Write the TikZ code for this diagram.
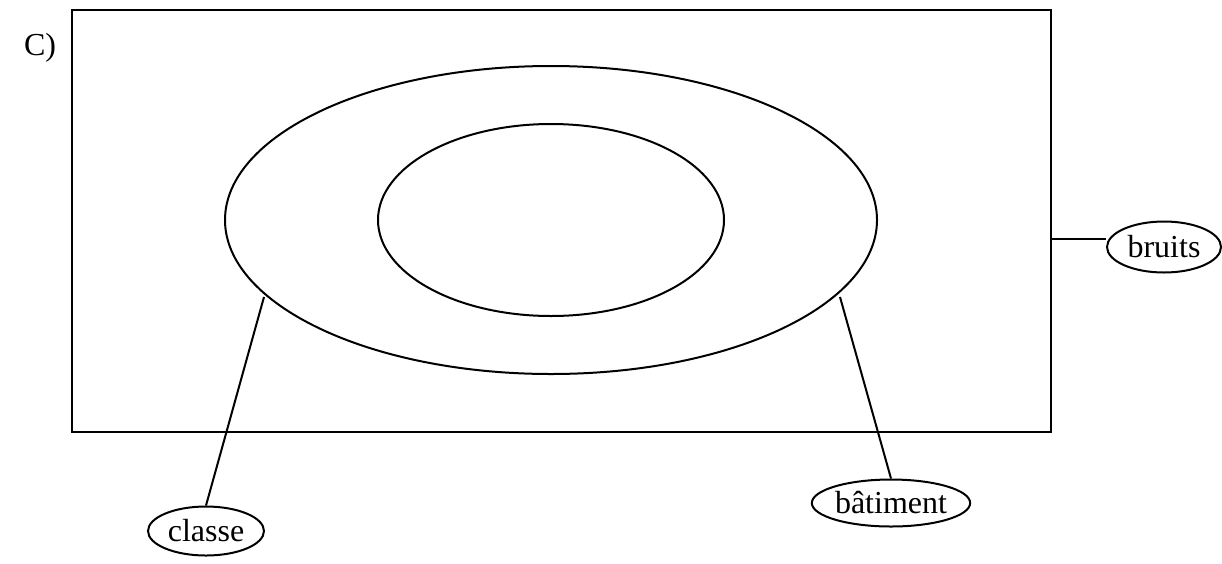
\documentclass[tikz,border=0pt]{standalone}
\usepackage{fontspec}
\setmainfont{Liberation Serif}
\usetikzlibrary{shapes.geometric}
\begin{document}
\begin{tikzpicture}[x=1pt,y=-1pt,line width=2pt,
  txt/.style={font=\fontsize{32}{38}\selectfont},
  lbl/.style={draw,ellipse,inner sep=0pt,txt},
  big/.style={draw,ellipse,inner sep=0pt}]
\useasboundingbox (0,0) rectangle (1222,563);
\node[txt] (c) at (40,48) {C)};
\node[draw,rectangle,minimum width=979pt,minimum height=422pt,inner sep=0pt] (frame) at (561.5,221) {};
\node[big,minimum width=652pt,minimum height=308pt] (outer) at (551,220) {};
\node[big,minimum width=346pt,minimum height=192pt] (inner) at (551,220) {};
\node[lbl,minimum width=116pt,minimum height=49pt] (classe) at (206,531) {classe};
\node[lbl,minimum width=134pt,minimum height=47pt] (batiment) at (891,503) {bâtiment};
\node[lbl,minimum width=114pt,minimum height=51pt] (bruits) at (1164,247) {bruits};
\coordinate (cl) at (264,297);
\coordinate (bt) at (840,297);
\coordinate (br) at (1051,239);
\draw (cl) -- (classe.north);
\draw (bt) -- (batiment.north);
\draw (br) -- (bruits.west |- br);
\end{tikzpicture}
\end{document}
